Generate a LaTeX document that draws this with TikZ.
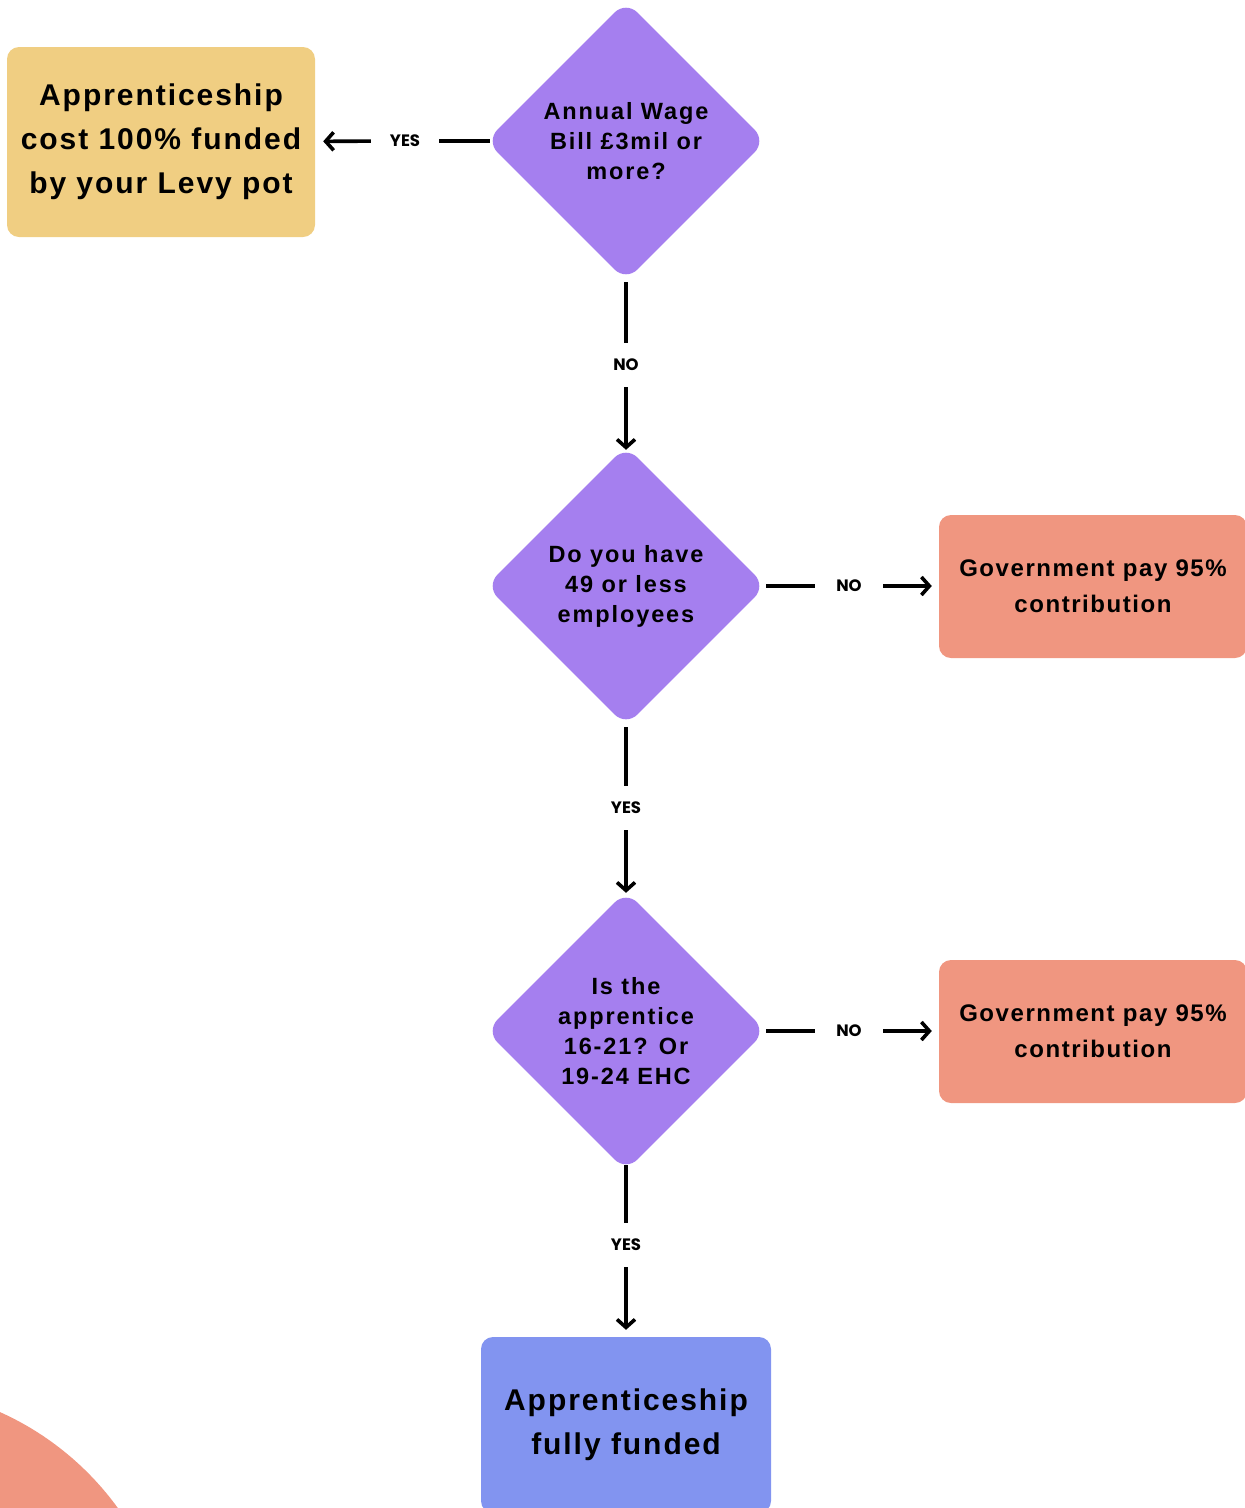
\documentclass[tikz,border=0pt]{standalone}
\usepackage{fontspec}
\setmainfont{Liberation Sans}
\newfontfamily\mainb{Liberation Sans}[LetterSpace=6.5]
\newfontfamily\diab{Liberation Sans}[LetterSpace=8]
\newfontfamily\lblf{Poppins}
\usetikzlibrary{shapes.geometric,arrows.meta}
\definecolor{cyellow}{RGB}{240,206,130}
\definecolor{cpurple}{RGB}{165,127,239}
\definecolor{csalmon}{RGB}{240,150,128}
\definecolor{cblue}{RGB}{130,148,240}
\tikzset{
  box/.style={rectangle, rounded corners=12pt, align=center, inner sep=0pt},
  bigtext/.style={font=\mainb\bfseries\fontsize{30}{44}\selectfont},
  gov/.style={box, fill=csalmon, minimum width=308pt, minimum height=143pt,
    font=\mainb\bfseries\fontsize{24}{36}\selectfont},
  dia/.style={diamond, aspect=1, fill=cpurple, rounded corners=16pt,
    minimum width=280pt, minimum height=280pt, inner sep=0pt, align=center,
    font=\diab\bfseries\fontsize{23.5}{30}\selectfont},
  lblh/.style={inner sep=0pt, minimum width=68pt, minimum height=20pt,
    font=\lblf\bfseries\fontsize{16.5}{18}\selectfont},
  lblv/.style={inner sep=0pt, minimum width=40pt, minimum height=44pt,
    font=\lblf\bfseries\fontsize{16.5}{18}\selectfont},
  conn/.style={line width=3.6pt},
  arr/.style={line width=3.6pt, -{Straight Barb[length=8pt,width=18pt,line width=3.6pt]}}
}
\begin{document}
\begin{tikzpicture}[x=1pt,y=-1pt]
\useasboundingbox (0,0) rectangle (1245,1508);
\clip (0,0) rectangle (1245,1508);
\fill[csalmon] (-120,1680) circle (293.5pt);

\node[box, bigtext, fill=cyellow, minimum width=308pt, minimum height=190pt] (b1) at (161,142)
  {Apprenticeship\\cost 100\% funded\\by your Levy pot};
\node[dia] (d1) at (626,141) {Annual Wage\\Bill £3mil or\\more?};
\node[dia] (d2) at (626,586) {Do you have\\49 or less\\employees};
\node[dia] (d3) at (626,1031) {Is the\\apprentice\\16-21? Or\\19-24 EHC};
\node[gov] (g1) at (1093,586.5) {Government pay 95\%\\contribution};
\node[gov] (g2) at (1093,1031.5) {Government pay 95\%\\contribution};
\node[box, bigtext, fill=cblue, minimum width=290pt, minimum height=176pt] (b2) at (626,1425)
  {Apprenticeship\\fully funded};

\node[lblh] (l1) at (405,141) {YES};
\draw[conn, shorten <=-4pt] (d1.west) -- (l1);
\draw[arr, shorten >=8pt] (l1) -- (b1);

\node[lblv] (l2) at (626,365) {NO};
\draw[conn, shorten <=1pt] (d1.south) -- (l2);
\draw[arr, shorten >=-4pt] (l2) -- (d2.north);

\node[lblh] (l3) at (849,586) {NO};
\draw[conn, shorten <=0pt] (d2.east) -- (l3);
\draw[arr, shorten >=7pt] (l3) -- (g1.west |- l3);

\node[lblv] (l4) at (626,808) {YES};
\draw[conn, shorten <=1pt] (d2.south) -- (l4);
\draw[arr, shorten >=-2pt] (l4) -- (d3.north);

\node[lblh] (l5) at (849,1031) {NO};
\draw[conn, shorten <=0pt] (d3.east) -- (l5);
\draw[arr, shorten >=7pt] (l5) -- (g2.west |- l5);

\node[lblv] (l6) at (626,1245) {YES};
\draw[conn, shorten <=-6pt] (d3.south) -- (l6);
\draw[arr, shorten >=7pt] (l6) -- (b2);
\end{tikzpicture}
\end{document}
